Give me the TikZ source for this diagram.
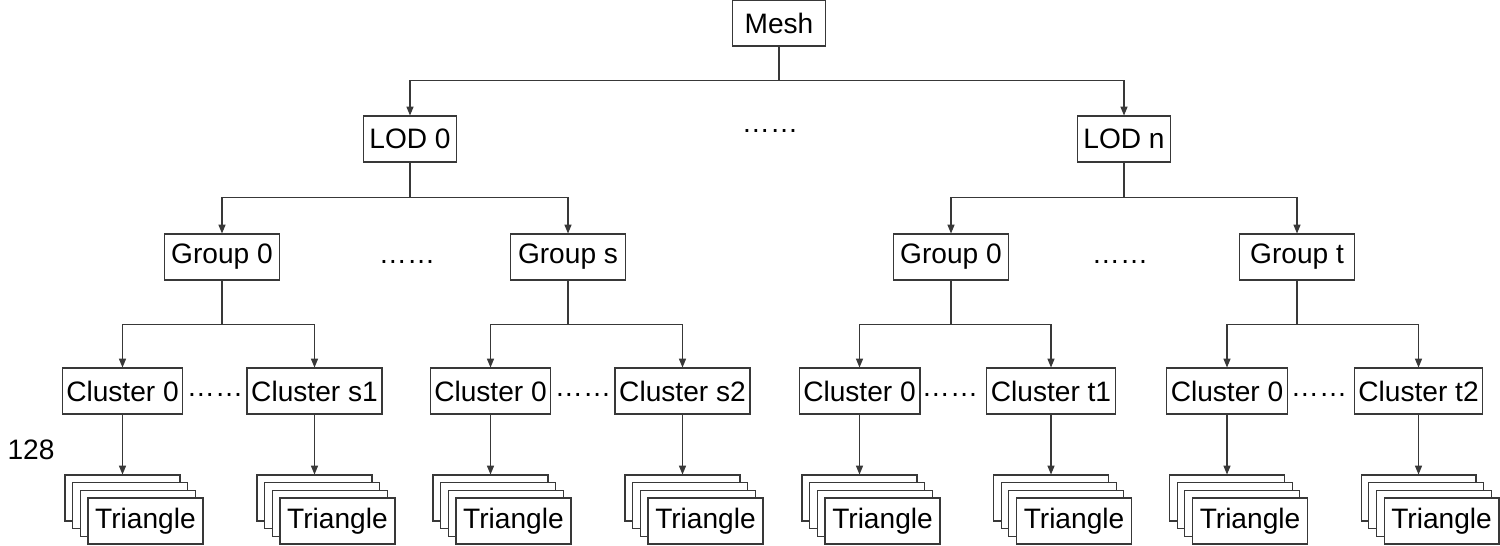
\documentclass[tikz,border=0pt]{standalone}
\usepackage{fontspec}
\setmainfont{Liberation Sans}
\usetikzlibrary{arrows.meta}

\tikzset{
	box/.style={draw=black!78, line width=0.6pt, fill=white, minimum height=0.92cm, inner xsep=2.4pt, font=\fontsize{16}{18}\selectfont},
	topbox/.style={box, minimum width=1.86cm},
	midbox/.style={box, minimum width=2.3cm},
	sheet/.style={midbox},
	dots/.style={inner sep=0pt, font=\fontsize{16}{18}\selectfont},
	arr/.style={draw=black!78, line width=0.6pt, -{Triangle[length=5pt,width=4pt]}},
}

\begin{document}
\begin{tikzpicture}[x=0.02cm, y=-0.02cm]
	\useasboundingbox (0,0) rectangle (1500,545);

	\node[topbox] (mesh) at (779,23) {Mesh};
	\node[topbox] (lod0) at (410,139) {LOD 0};
	\node[topbox] (lodn) at (1124,139) {LOD n};
	\node[dots] (d0) at (770,131) {……};

	\node[midbox] (g1) at (222,257) {Group 0};
	\node[midbox] (g2) at (568,257) {Group s};
	\node[midbox] (g3) at (951,257) {Group 0};
	\node[midbox] (g4) at (1297,257) {Group t};
	\node[dots] (d1) at (407,262) {……};
	\node[dots] (d2) at (1120,262) {……};

	\draw[arr] (mesh.south) -- ++(0,34) -| (lod0.north);
	\draw[arr] (mesh.south) -- ++(0,34) -| (lodn.north);
	\draw[arr] (lod0.south) -- ++(0,35) -| (g1.north);
	\draw[arr] (lod0.south) -- ++(0,35) -| (g2.north);
	\draw[arr] (lodn.south) -- ++(0,35) -| (g3.north);
	\draw[arr] (lodn.south) -- ++(0,35) -| (g4.north);

	\foreach \n/\x/\t in {a/122.5/Cluster 0, b/314.5/Cluster s1, c/490.5/Cluster 0, d/682.5/Cluster s2, e/859.5/Cluster 0, f/1051/Cluster t1, g/1227/Cluster 0, h/1418.5/Cluster t2} {
		\node[midbox] (c\n) at (\x,391) {\t};
		\node[sheet] (s\n) at (\x,498) {};
		\foreach \k in {1,2} \node[sheet] at (\x+\k*7.67,498+\k*7.67) {};
		\node[sheet] (t\n) at (\x+23,521) {Triangle};
		\draw[arr] (c\n.south) -- (s\n.north);
	}
	\node[dots] (d3) at (215,395) {……};
	\node[dots] (d4) at (583,395) {……};
	\node[dots] (d5) at (950,395) {……};
	\node[dots] (d6) at (1319,395) {……};

	\draw[arr] (g1.south) -- ++(0,44) -| (ca.north);
	\draw[arr] (g1.south) -- ++(0,44) -| (cb.north);
	\draw[arr] (g2.south) -- ++(0,44) -| (cc.north);
	\draw[arr] (g2.south) -- ++(0,44) -| (cd.north);
	\draw[arr] (g3.south) -- ++(0,44) -| (ce.north);
	\draw[arr] (g3.south) -- ++(0,44) -| (cf.north);
	\draw[arr] (g4.south) -- ++(0,44) -| (cg.north);
	\draw[arr] (g4.south) -- ++(0,44) -| (ch.north);

	\node[dots] (num) at (31,450) {128};
\end{tikzpicture}
\end{document}
